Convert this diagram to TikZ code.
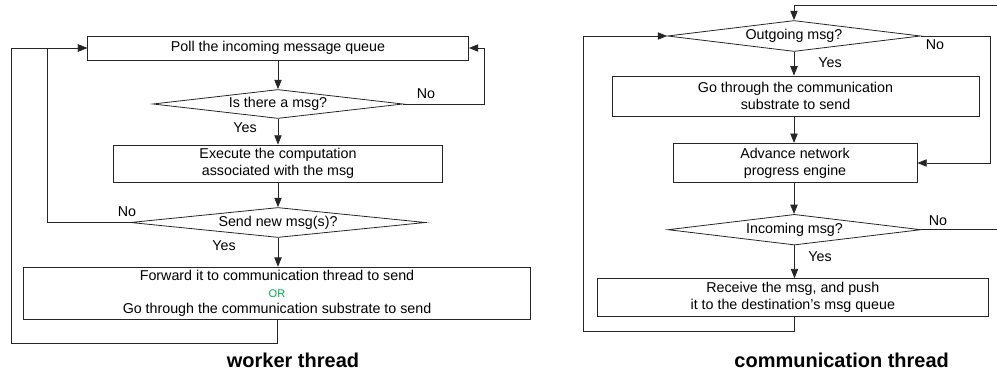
\documentclass[tikz,border=0pt]{standalone}
\usepackage{fontspec}
\setmainfont{Liberation Sans}
\usetikzlibrary{shapes.geometric,arrows.meta}
\definecolor{orgreen}{HTML}{00B050}
\begin{document}
\begin{tikzpicture}[x=0.75pt,y=-0.75pt,
  every node/.style={font=\fontsize{10.7}{12.75}\selectfont},
  line/.style={draw=black!85, line width=0.6pt},
  arr/.style={line, -{Triangle[length=7pt,width=5.5pt]}},
  procbox/.style={draw=black!85, line width=0.6pt, rectangle, inner sep=0pt, align=center},
  decision/.style={draw=black!85, line width=0.6pt, diamond, inner sep=0pt, align=center},
  lbl/.style={inner sep=0pt},
  title/.style={inner sep=0pt, font=\fontsize{15}{18}\selectfont\bfseries}]
\useasboundingbox (0,0) rectangle (997,374);

% ---------------- worker thread ----------------
\node[procbox, minimum width=285.75pt, minimum height=18pt] (poll) at (278,48)
  {Poll the incoming message queue};
\node[decision, minimum width=187.5pt, minimum height=21.75pt, shape aspect=8.6] (q1) at (278,104)
  {Is there a msg?};
\node[procbox, minimum width=246.75pt, minimum height=27.75pt] (exec) at (278,163.5)
  {Execute the computation\\associated with the msg};
\node[decision, minimum width=221.25pt, minimum height=22.5pt, shape aspect=9.8] (q2) at (278,222.5)
  {Send new msg(s)?};
\node[procbox, minimum width=380.8pt, minimum height=39.5pt,
      font=\fontsize{10.7}{12.5}\selectfont] (fwd) at (277,293.5)
  {Forward it to communication thread to send\\
   {\color{orgreen}\fontsize{8.3}{10}\selectfont OR}\\
   Go through the communication substrate to send};

\coordinate (q1r) at (484,104);
\coordinate (q2l) at (47,222.5);
\coordinate (fb) at (277,343);
\coordinate (fl) at (11,343);

\draw[arr] (poll) -- (q1);
\draw[arr] (q1) -- (exec);
\draw[arr] (exec) -- (q2);
\draw[arr] (q2.south) -- (q2.south |- fwd.north);
\draw[arr] (q1.east) -- (q1r) |- (poll.east);
\draw[arr] (q2.west) -- (q2l) |- (poll.west);
\draw[arr] (fwd.south -| fb) -- (fb) -- (fl) |- (poll.west);

\node[lbl] (no1) at (426,94) {No};
\node[lbl] (yes1) at (245,128) {Yes};
\node[lbl] (no2) at (127,211.7) {No};
\node[lbl] (yes2) at (224,246) {Yes};

\node[title] (wt) at (293,360) {worker thread};

% ---------------- communication thread ----------------
\node[decision, minimum width=189.75pt, minimum height=23.25pt, shape aspect=8.2] (out) at (794,36)
  {Outgoing msg?};
\node[procbox, minimum width=275.25pt, minimum height=30.5pt] (go) at (795.5,96.3)
  {Go through the communication\\substrate to send};
\node[procbox, minimum width=183pt, minimum height=29.55pt] (adv) at (795,163)
  {Advance network\\progress engine};
\node[decision, minimum width=189.75pt, minimum height=23pt, shape aspect=8.2] (inc) at (794.5,229.7)
  {Incoming msg?};
\node[procbox, minimum width=292.7pt, minimum height=28pt] (recv) at (792.8,297.3)
  {Receive the msg, and push\\it to the destination's msg queue};

\coordinate (or) at (990,36);
\coordinate (ir) at (1005,229.7);
\coordinate (it) at (1005,5);
\coordinate (ot) at (794,5);
\coordinate (rb) at (794,331);
\coordinate (rl) at (583,331);

\draw[arr] (out.south) -- (out.south |- go.north);
\draw[arr] (go.south -| out.south) -- (out.south |- adv.north);
\draw[arr] (adv.south -| out.south) -- (out.south |- inc.north);
\draw[arr] (inc.south) -- (inc.south |- recv.north);
\draw[arr] (out.east) -- (or) |- (adv.east);
\draw[arr] (inc.east) -- (ir) -- (it) -- (ot) -- (out.north);
\draw[arr] (recv.south -| rb) -- (rb) -- (rl) |- (out.west);

\node[lbl] (no3) at (935,45) {No};
\node[lbl] (yes3) at (830,62.7) {Yes};
\node[lbl] (no4) at (938,220.7) {No};
\node[lbl] (yes4) at (820,256.7) {Yes};

\node[title] (ct) at (841.7,360) {communication thread};
\end{tikzpicture}
\end{document}
